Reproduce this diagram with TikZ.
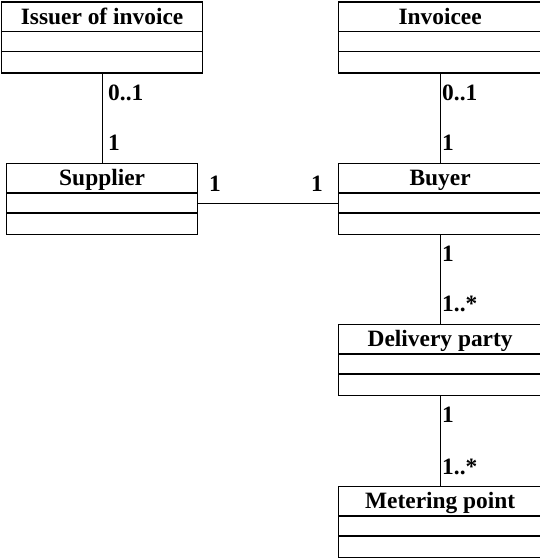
\documentclass[tikz,border=0pt]{standalone}
\usepackage{fontspec}
\setmainfont{Liberation Serif}
\begin{document}
\begin{tikzpicture}[x=1pt,y=-1pt,
  clsframe/.style={draw, line width=1.3pt, rectangle, inner sep=0pt, anchor=north west, minimum height=71pt},
  sep/.style={line width=1.3pt},
  link/.style={line width=1.1pt},
  ttl/.style={anchor=base, inner sep=0pt, font=\fontsize{23.4}{27}\selectfont\bfseries},
  mult/.style={anchor=base west, inner sep=0pt, font=\fontsize{23.4}{27}\selectfont\bfseries}]
\useasboundingbox (0,0) rectangle (540,558);
\clip (0,0) rectangle (540,558);

% class box: name, left, top, width, title
\newcommand{\umlclass}[5]{%
  \node[clsframe, minimum width=#4] (#1) at (#2,#3) {};
  \draw[sep] ([yshift=-30.5pt]#1.north west) -- ([yshift=-30.5pt]#1.north east);
  \draw[sep] ([yshift=-50.5pt]#1.north west) -- ([yshift=-50.5pt]#1.north east);
  \node[ttl] (#1-title) at ([yshift=-23pt]#1.north) {#5};
}

\umlclass{issuer}{0.8}{1.2}{201.2}{Issuer of invoice}
\umlclass{invoicee}{338}{1.2}{203}{Invoicee}
\umlclass{supplier}{6}{162.5}{191}{Supplier}
\umlclass{buyer}{338}{162.5}{203}{Buyer}
\umlclass{delivery}{338}{323.5}{203}{Delivery party}
\umlclass{metering}{338}{485.5}{203}{Metering point}

% associations
\draw[link] (issuer.south) -- (issuer.south |- supplier.north);
\draw[link] (invoicee.south) -- (buyer.north);
\draw[link] ([yshift=-4.5pt]supplier.east) -- ([yshift=-4.5pt]buyer.west);
\draw[link] (buyer.south) -- (delivery.north);
\draw[link] (delivery.south) -- (metering.north);

% multiplicities
\node[mult] (m-issuer) at (108,100) {0..1};
\node[mult] (m-supplier-up) at (108,150.5) {1};
\node[mult] (m-invoicee) at (442,100) {0..1};
\node[mult] (m-buyer-up) at (442,150.5) {1};
\node[mult] (m-supplier-right) at (209,191) {1};
\node[mult] (m-buyer-left) at (311,191) {1};
\node[mult] (m-buyer-down) at (442,261) {1};
\node[mult] (m-delivery-up) at (442,311) {1..*};
\node[mult] (m-delivery-down) at (442,422) {1};
\node[mult] (m-metering-up) at (442,474) {1..*};
\end{tikzpicture}
\end{document}
